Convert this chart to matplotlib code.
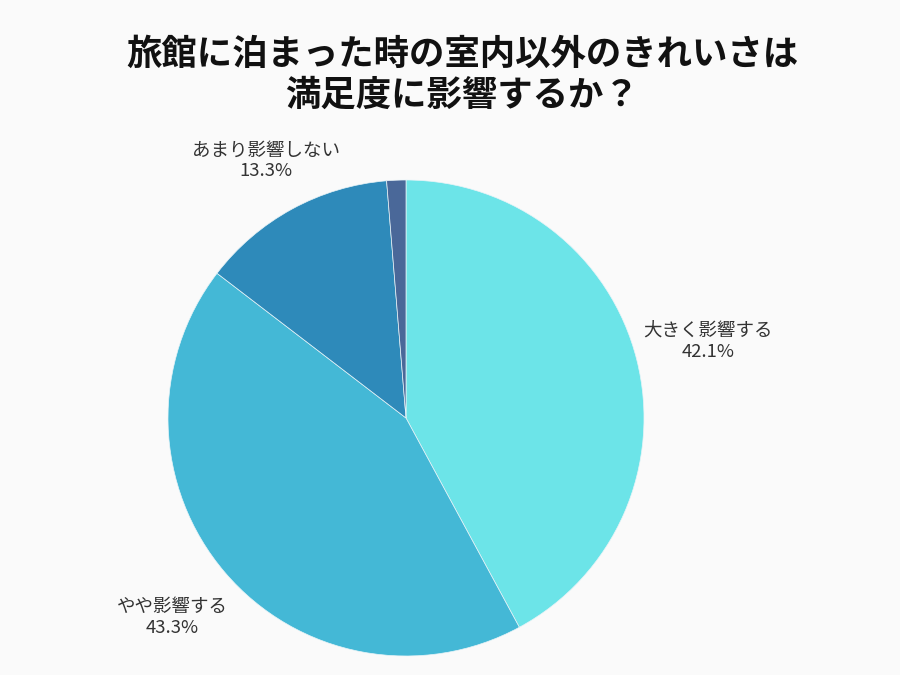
import matplotlib
matplotlib.use("Agg")
import matplotlib.pyplot as plt
import numpy as np

plt.rcParams['font.family'] = ['Noto Sans CJK JP', 'DejaVu Sans']

categories = ["大きく影響する", "やや影響する", "あまり影響しない", "全く影響しない"]
values = [42.1, 43.3, 13.3, 1.3]
show_label = [True, True, True, False]
colors = ["#6ce4e8", "#44b8d6", "#2e8aba", "#4a6899"]
title = "旅館に泊まった時の室内以外のきれいさは\n満足度に影響するか？"

W, H = 900, 675
fig = plt.figure(figsize=(9, 6.75), dpi=100)
fig.patch.set_facecolor("#fafafa")

cx, cy, r = 406, 418, 238
ax = fig.add_axes([(cx - r) / W, (H - cy - r) / H, 2 * r / W, 2 * r / H])
ax.set_facecolor("#fafafa")

labels = [f"{c}\n{v:.1f}%" if s else "" for c, v, s in zip(categories, values, show_label)]
wedges, texts = ax.pie(values, colors=colors, startangle=90, counterclock=False,
                       labels=labels, labeldistance=1.28, radius=1.0,
                       wedgeprops=dict(edgecolor="#e8f4f8", linewidth=0.5),
                       textprops=dict(fontsize=13.3, color="#333333", linespacing=1.2))
dist = [1.31, 1.29, 1.23, 1.2]
for w, t, d in zip(wedges, texts, dist):
    ang = np.deg2rad((w.theta1 + w.theta2) / 2)
    t.set_position((d * np.cos(ang), d * np.sin(ang)))
    t.set_ha("center")
    t.set_va("center")
ax.set_xlim(-1, 1)
ax.set_ylim(-1, 1)
ax.set_aspect("equal")
ax.axis("off")

fig.text(462 / W, 1 - 75 / H, title, ha="center", va="center", fontsize=25.5,
         fontweight="bold", color="#111111", linespacing=1.22)

fig.savefig("out.png", dpi=100, facecolor=fig.get_facecolor())
